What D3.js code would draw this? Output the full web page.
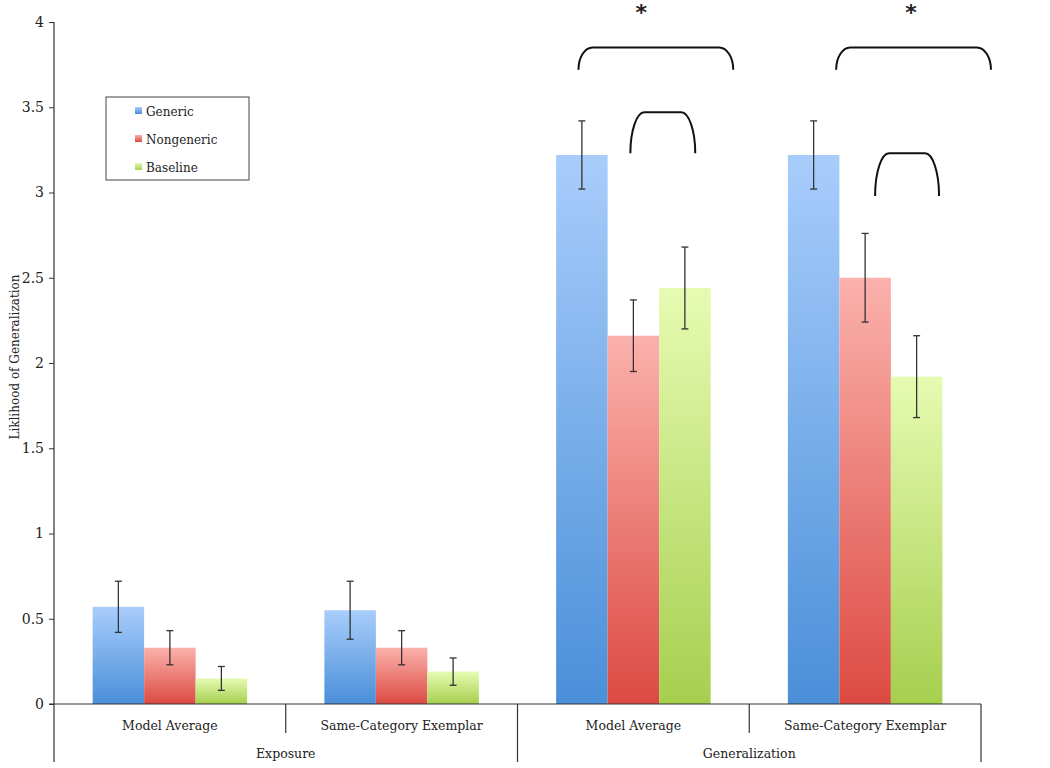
<!DOCTYPE html>
<html>
<head>
<meta charset="utf-8">
<script src="https://cdn.jsdelivr.net/npm/d3@7"></script>
<style>
  body { margin: 0; background: #fff; }
  text { font-family: "DejaVu Serif", serif; fill: #222; }
</style>
</head>
<body>
<svg id="chart" width="1050" height="768"></svg>
<script>
(function() {

  // data
  var groups = ["Exposure", "Generalization"];
  var categories = ["Model Average", "Same-Category Exemplar", "Model Average", "Same-Category Exemplar"];
  var categoryGroup = [0, 0, 1, 1];
  var series = ["Generic", "Nongeneric", "Baseline"];
  var generic = [0.57, 0.55, 3.22, 3.22];
  var nongeneric = [0.33, 0.33, 2.16, 2.50];
  var baseline = [0.15, 0.19, 2.44, 1.92];
  var genericErr = [0.15, 0.17, 0.20, 0.20];
  var nongenericErr = [0.10, 0.10, 0.21, 0.26];
  var baselineErr = [0.07, 0.08, 0.24, 0.24];
  var yTicks = [0, 0.5, 1, 1.5, 2, 2.5, 3, 3.5, 4];

  // significance brackets: category index, span as fraction of band, y in data units
  var brackets = [
    {cat: 2, x0: 0.263, x1: 0.931, top: 3.85, bottom: 3.72},
    {cat: 2, x0: 0.487, x1: 0.767, top: 3.47, bottom: 3.23},
    {cat: 3, x0: 0.375, x1: 1.043, top: 3.85, bottom: 3.72},
    {cat: 3, x0: 0.543, x1: 0.819, top: 3.23, bottom: 2.98}
  ];
  var stars = [{cat: 2, x: 0.534, y: 4.07}, {cat: 3, x: 0.698, y: 4.07}];

  var values = [generic, nongeneric, baseline];
  var errors = [genericErr, nongenericErr, baselineErr];

  var colors = [
    ["#a8cdfb", "#4a8fd9"],
    ["#fbb1ac", "#dc4a42"],
    ["#e6fbb2", "#a6cf4f"]
  ];

  var svg = d3.select("#chart");

  var left = 54, right = 981, top = 22, bottom = 704;

  var y = d3.scaleLinear()
      .domain([0, 4])
      .range([bottom, top]);

  var x = d3.scaleBand()
      .domain(d3.range(categories.length))
      .range([left, right])
      .padding(0);

  var xInner = d3.scaleBand()
      .domain(series)
      .range([0, x.bandwidth()])
      .paddingInner(0)
      .paddingOuter(0.75);

  // gradients
  var defs = svg.append("defs");
  colors.forEach(function(c, i) {
    var g = defs.append("linearGradient")
        .attr("id", "grad" + i)
        .attr("x1", 0).attr("y1", 0)
        .attr("x2", 0).attr("y2", 1);
    g.append("stop").attr("offset", "0%").attr("stop-color", c[0]);
    g.append("stop").attr("offset", "100%").attr("stop-color", c[1]);
  });

  // bars
  series.forEach(function(s, si) {
    svg.append("g")
      .selectAll("rect")
      .data(values[si])
      .enter().append("rect")
        .attr("x", (d, i) => x(i) + xInner(s))
        .attr("y", d => y(d))
        .attr("width", xInner.bandwidth())
        .attr("height", d => y(0) - y(d))
        .attr("fill", "url(#grad" + si + ")");
  });

  // error bars
  series.forEach(function(s, si) {
    var g = svg.append("g")
        .attr("stroke", "#333")
        .attr("stroke-width", 1.3);
    values[si].forEach(function(v, i) {
      var cx = x(i) + xInner(s) + xInner.bandwidth() / 2;
      var e = errors[si][i];
      g.append("line")
          .attr("x1", cx).attr("x2", cx)
          .attr("y1", y(v + e)).attr("y2", y(v - e));
      g.append("line")
          .attr("x1", cx - 3.5).attr("x2", cx + 3.5)
          .attr("y1", y(v + e)).attr("y2", y(v + e));
      g.append("line")
          .attr("x1", cx - 3.5).attr("x2", cx + 3.5)
          .attr("y1", y(v - e)).attr("y2", y(v - e));
    });
  });

  // y axis
  var yAxis = d3.axisLeft(y)
      .tickValues(yTicks)
      .tickSize(5)
      .tickPadding(5)
      .tickFormat(d => String(d));

  var yAxisG = svg.append("g")
      .attr("transform", "translate(" + left + ",0)")
      .call(yAxis);
  yAxisG.select(".domain").remove();
  yAxisG.selectAll("line").attr("stroke", "#333");
  yAxisG.selectAll("text")
      .style("font-family", "'DejaVu Serif', serif")
      .style("font-size", "14px")
      .attr("fill", "#333");

  svg.append("line")
      .attr("x1", left).attr("x2", left)
      .attr("y1", top).attr("y2", 762)
      .attr("stroke", "#333").attr("stroke-width", 1.2);

  // baseline and category dividers
  svg.append("line")
      .attr("x1", left - 5).attr("x2", right)
      .attr("y1", y(0)).attr("y2", y(0))
      .attr("stroke", "#333").attr("stroke-width", 1.2);

  d3.range(1, categories.length + 1).forEach(function(i) {
    var xx = i < categories.length ? x(i) : right;
    var full = i === categories.length || categoryGroup[i] !== categoryGroup[i - 1];
    svg.append("line")
        .attr("x1", xx).attr("x2", xx)
        .attr("y1", y(0)).attr("y2", full ? 762 : 733)
        .attr("stroke", "#333").attr("stroke-width", 1.2);
  });

  svg.append("g")
    .selectAll("text")
    .data(categories)
    .enter().append("text")
      .attr("x", (d, i) => x(i) + x.bandwidth() / 2)
      .attr("y", 730)
      .attr("text-anchor", "middle")
      .style("font-size", "12.5px")
      .text(d => d);

  svg.append("g")
    .selectAll("text")
    .data(groups)
    .enter().append("text")
      .attr("x", function(d, gi) {
        var idx = d3.range(categories.length).filter(i => categoryGroup[i] === gi);
        return (x(idx[0]) + x(idx[idx.length - 1]) + x.bandwidth()) / 2;
      })
      .attr("y", 758)
      .attr("text-anchor", "middle")
      .style("font-size", "12.5px")
      .text(d => d);

  // y label
  svg.append("text")
      .attr("transform", "translate(19,357) rotate(-90)")
      .attr("text-anchor", "middle")
      .style("font-size", "12px")
      .text("Liklihood of Generalization");

  // legend
  var legend = svg.append("g");
  legend.append("rect")
      .attr("x", 106).attr("y", 97)
      .attr("width", 143).attr("height", 83)
      .attr("fill", "none")
      .attr("stroke", "#444")
      .attr("stroke-width", 1);

  series.forEach(function(s, si) {
    var ly = 112 + si * 28;
    legend.append("rect")
        .attr("x", 135).attr("y", ly - 5)
        .attr("width", 7).attr("height", 7)
        .attr("fill", "url(#grad" + si + ")");
    legend.append("text")
        .attr("x", 146).attr("y", ly + 4)
        .style("font-size", "12px")
        .text(s);
  });

  // significance brackets (quarter-ellipse corners)
  var bracketG = svg.append("g")
      .attr("fill", "none")
      .attr("stroke", "#111")
      .attr("stroke-width", 2);

  var k = 0.55;
  brackets.forEach(function(b) {
    var x0 = x(b.cat) + b.x0 * x.bandwidth(),
        x1 = x(b.cat) + b.x1 * x.bandwidth(),
        yt = y(b.top),
        yb = y(b.bottom),
        h = yb - yt,
        rx = 14;
    var p = d3.path();
    p.moveTo(x0, yb);
    p.bezierCurveTo(x0, yb - k * h, x0 + rx * (1 - k), yt, x0 + rx, yt);
    p.lineTo(x1 - rx, yt);
    p.bezierCurveTo(x1 - rx * (1 - k), yt, x1, yb - k * h, x1, yb);
    bracketG.append("path").attr("d", p.toString());
  });

  svg.append("g")
    .selectAll("text")
    .data(stars)
    .enter().append("text")
      .attr("x", d => x(d.cat) + d.x * x.bandwidth())
      .attr("y", d => y(d.y) + 10)
      .attr("text-anchor", "middle")
      .style("font-family", "'DejaVu Sans', sans-serif")
      .style("font-size", "22px")
      .style("font-weight", "bold")
      .attr("fill", "#111")
      .text("*");

})();
</script>
</body>
</html>
